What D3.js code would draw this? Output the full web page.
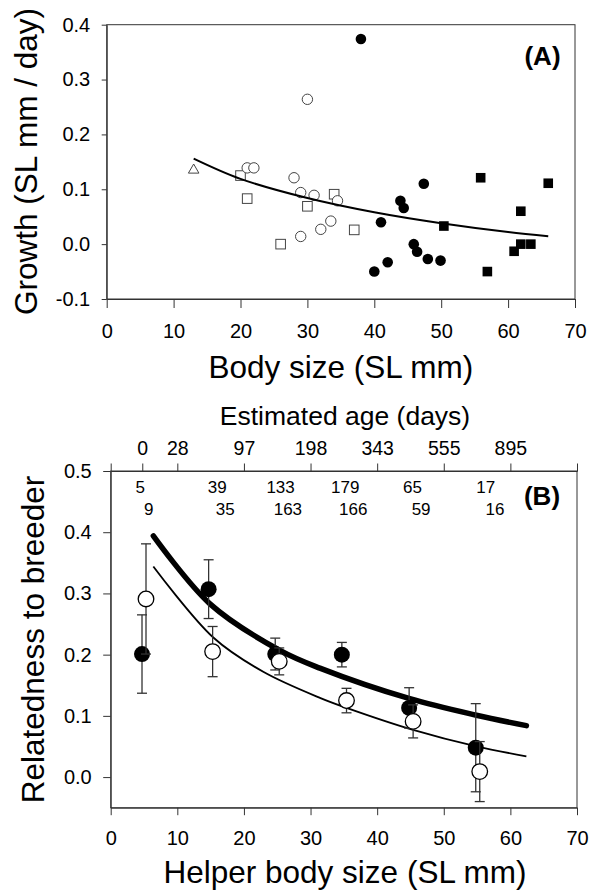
<!DOCTYPE html>
<html><head><meta charset="utf-8">
<script src="https://cdn.jsdelivr.net/npm/d3@7/dist/d3.min.js"></script>
<style>
html,body{margin:0;padding:0;background:#fff;}
text{font-family:"Liberation Sans",Arial,sans-serif;fill:#000;}
</style></head>
<body>
<svg id="c" width="591" height="895"></svg>
<script>
// ---------- Panel A data ----------
const triX=[13.0], triY=[0.135];
const openSqX=[20.0,21.0,26.0,30.0,34.0,37.0];
const openSqY=[0.125,0.083,0.0,0.069,0.091,0.026];
const openCirX=[21.0,22.0,28.0,29.0,31.0,34.5,30.0,29.0,32.0,33.5];
const openCirY=[0.139,0.139,0.121,0.094,0.089,0.079,0.264,0.014,0.027,0.042];
const fillCirX=[38.0,41.0,42.0,40.0,43.9,44.4,47.4,45.9,46.4,48.0,49.9];
const fillCirY=[0.374,0.040,-0.033,-0.050,0.079,0.066,0.110,0.0,-0.014,-0.027,-0.030];
const fillSqX=[50.4,55.9,56.9,60.9,61.9,61.9,63.4,66.0];
const fillSqY=[0.033,0.121,-0.050,-0.013,0.060,0.0,0.0,0.111];
const fitAX=[13,20,30,40,50,60,66];
const fitAY=[0.156,0.119,0.084,0.058,0.038,0.022,0.0146];
const ticksAX=[0,10,20,30,40,50,60,70];
const ticksAY=[-0.1,0.0,0.1,0.2,0.3,0.4];

// ---------- Panel B data ----------
const fX=[4.7,14.7,24.7,34.7,44.8,54.8];
const fY=[0.201,0.307,0.201,0.200,0.113,0.048];
const fE=[0.064,0.048,0.026,0.020,0.033,0.072];
const oX=[5.3,15.3,25.3,35.4,45.4,55.4];
const oY=[0.291,0.205,0.189,0.125,0.091,0.009];
const oE=[0.090,0.041,0.022,0.020,0.027,0.049];
const thickX=[6.4,14.9,25.4,31.4,44.9,54.9,62.4];
const thickY=[0.394,0.283,0.207,0.178,0.128,0.101,0.084];
const thinX=[6.4,15.4,22.9,31.5,35.4,45.4,54.9,62.4];
const thinY=[0.344,0.228,0.172,0.129,0.113,0.077,0.050,0.034];
const ageTickPos=[4.74,10,20,30,40,50,60];
const ageTickLab=["0","28","97","198","343","555","895"];
const nRow1=["5","39","133","179","65","17"];
const nRow1X=[4.45,16.0,25.5,35.2,45.3,56.3];
const nRow2=["9","35","163","166","59","16"];
const nRow2X=[5.7,17.2,26.6,36.4,46.6,57.7];
const ticksBX=[0,10,20,30,40,50,60,70];
const ticksBY=[0.0,0.1,0.2,0.3,0.4,0.5];

const svg=d3.select("#c");
const zip=(a,b)=>a.map((v,i)=>[v,b[i]]);
const fmt1=d=>d.toFixed(1);
function styleAxis(g,fs){
  g.selectAll("path,line").attr("stroke","#333").attr("stroke-width",1);
  g.selectAll("text").style("font-size",fs+"px").style("font-family","'Liberation Sans',Arial,sans-serif").attr("fill","#000");
}

// ================= Panel A =================
const ax=d3.scaleLinear().domain([0,70]).range([106.7,575]);
const ay=d3.scaleLinear().domain([-0.1,0.4]).range([299,24.7]);
const gA=svg.append("g");
gA.append("g").attr("transform","translate(0,299)")
  .call(d3.axisBottom(ax).tickValues(ticksAX).tickSize(9).tickSizeOuter(0).tickPadding(16).tickFormat(d3.format("d")))
  .call(g=>styleAxis(g,20));
gA.append("g").attr("transform","translate(106.7,0)")
  .call(d3.axisLeft(ay).tickValues(ticksAY).tickSize(5).tickSizeOuter(0).tickPadding(11.5).tickFormat(fmt1))
  .call(g=>styleAxis(g,20));
gA.append("rect").attr("x",ax(0)).attr("y",ay(0.4)).attr("width",ax(70)-ax(0)).attr("height",ay(-0.1)-ay(0.4))
  .attr("fill","none").attr("stroke","#333").attr("stroke-width",1);

// markers
gA.selectAll(".tri").data(zip(triX,triY)).join("path")
  .attr("d",d3.symbol(d3.symbolTriangle,48)).attr("transform",d=>`translate(${ax(d[0])},${ay(d[1])})`)
  .attr("fill","#fff").attr("stroke","#444").attr("stroke-width",1);
gA.selectAll(".osq").data(zip(openSqX,openSqY)).join("rect")
  .attr("x",d=>ax(d[0])-4.8).attr("y",d=>ay(d[1])-4.8).attr("width",9.6).attr("height",9.6)
  .attr("fill","#fff").attr("stroke","#444").attr("stroke-width",1);
gA.selectAll(".oc").data(zip(openCirX,openCirY)).join("circle")
  .attr("cx",d=>ax(d[0])).attr("cy",d=>ay(d[1])).attr("r",5.2)
  .attr("fill","#fff").attr("stroke","#444").attr("stroke-width",1);
gA.selectAll(".fc").data(zip(fillCirX,fillCirY)).join("circle")
  .attr("cx",d=>ax(d[0])).attr("cy",d=>ay(d[1])).attr("r",5.3)
  .attr("fill","#000");
gA.selectAll(".fsq").data(zip(fillSqX,fillSqY)).join("rect")
  .attr("x",d=>ax(d[0])-4.8).attr("y",d=>ay(d[1])-4.8).attr("width",9.6).attr("height",9.6)
  .attr("fill","#000");
gA.append("path").datum(zip(fitAX,fitAY))
  .attr("d",d3.line().x(d=>ax(d[0])).y(d=>ay(d[1])).curve(d3.curveCatmullRom))
  .attr("fill","none").attr("stroke","#000").attr("stroke-width",2);

gA.append("text").attr("x",542.5).attr("y",65).attr("text-anchor","middle")
  .style("font-size","26px").style("font-weight","bold").text("(A)");
gA.append("text").attr("x",340.9).attr("y",378).attr("text-anchor","middle")
  .style("font-size","31.5px").text("Body size (SL mm)");
gA.append("text").attr("transform","translate(37,161.5) rotate(-90)").attr("text-anchor","middle")
  .style("font-size","31.5px").text("Growth (SL mm / day)");

// ================= Panel B =================
const bx=d3.scaleLinear().domain([0,70]).range([110.7,577]);
const by=d3.scaleLinear().domain([-0.05,0.5]).range([807.7,471]);
const gB=svg.append("g");
gB.append("g").attr("transform","translate(0,807.7)")
  .call(d3.axisBottom(bx).tickValues(ticksBX).tickSize(7.5).tickSizeOuter(0).tickPadding(15.5).tickFormat(d3.format("d")))
  .call(g=>styleAxis(g,20));
gB.append("g").attr("transform","translate(110.7,0)")
  .call(d3.axisLeft(by).tickValues(ticksBY).tickSize(7.5).tickSizeOuter(0).tickPadding(11.5).tickFormat(fmt1))
  .call(g=>styleAxis(g,20));
gB.append("g").attr("transform","translate(0,471)")
  .call(d3.axisTop(bx).tickValues(ageTickPos).tickSize(7.5).tickSizeOuter(7.5).tickPadding(8.5).tickFormat((d,i)=>ageTickLab[i]))
  .call(g=>styleAxis(g,19.5));
gB.append("rect").attr("x",bx(0)).attr("y",by(0.5)).attr("width",bx(70)-bx(0)).attr("height",by(-0.05)-by(0.5))
  .attr("fill","none").attr("stroke","#333").attr("stroke-width",1);

// fitted curves
const lineB=d3.line().x(d=>bx(d[0])).y(d=>by(d[1])).curve(d3.curveCatmullRom);
gB.append("path").datum(zip(thinX,thinY)).attr("d",lineB)
  .attr("fill","none").attr("stroke","#000").attr("stroke-width",1.8);
gB.append("path").datum(zip(thickX,thickY)).attr("d",lineB)
  .attr("fill","none").attr("stroke","#000").attr("stroke-width",5.5).attr("stroke-linecap","round");

function errBars(xs,ys,es){
  const g=gB.append("g").attr("stroke","#333").attr("stroke-width",1.3);
  xs.forEach((xv,i)=>{
    const X=bx(xv), y1=by(ys[i]+es[i]), y0=by(ys[i]-es[i]);
    g.append("line").attr("x1",X).attr("x2",X).attr("y1",y1).attr("y2",y0);
    g.append("line").attr("x1",X-5).attr("x2",X+5).attr("y1",y1).attr("y2",y1);
    g.append("line").attr("x1",X-5).attr("x2",X+5).attr("y1",y0).attr("y2",y0);
  });
}
errBars(fX,fY,fE);
gB.selectAll(".bf").data(zip(fX,fY)).join("circle")
  .attr("cx",d=>bx(d[0])).attr("cy",d=>by(d[1])).attr("r",8).attr("fill","#000");
errBars(oX,oY,oE);
gB.selectAll(".bo").data(zip(oX,oY)).join("circle")
  .attr("cx",d=>bx(d[0])).attr("cy",d=>by(d[1])).attr("r",7.8)
  .attr("fill","#fff").attr("stroke","#000").attr("stroke-width",1.3);

// sample sizes
gB.selectAll(".n1").data(nRow1).join("text")
  .attr("x",(d,i)=>bx(nRow1X[i])).attr("y",492.7).attr("text-anchor","middle")
  .style("font-size","17px").text(d=>d);
gB.selectAll(".n2").data(nRow2).join("text")
  .attr("x",(d,i)=>bx(nRow2X[i])).attr("y",515).attr("text-anchor","middle")
  .style("font-size","17px").text(d=>d);

gB.append("text").attr("x",542).attr("y",505).attr("text-anchor","middle")
  .style("font-size","26px").style("font-weight","bold").text("(B)");
gB.append("text").attr("x",345).attr("y",425).attr("text-anchor","middle")
  .style("font-size","26.5px").text("Estimated age (days)");
gB.append("text").attr("x",345).attr("y",883).attr("text-anchor","middle")
  .style("font-size","31.5px").text("Helper body size (SL mm)");
gB.append("text").attr("transform","translate(44,639.5) rotate(-90)").attr("text-anchor","middle")
  .style("font-size","31.5px").text("Relatedness to breeder");
</script>
</body></html>
